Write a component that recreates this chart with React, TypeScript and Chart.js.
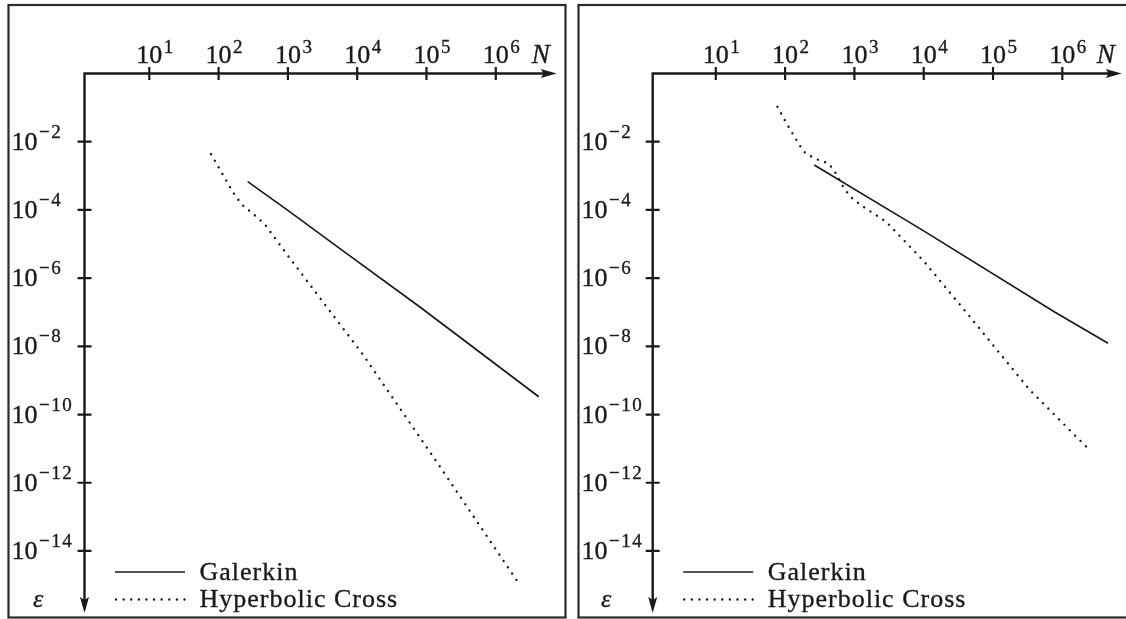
import React, { useEffect, useRef } from "react";
import { Chart, registerables } from "chart.js";

Chart.register(...registerables);

// ---------------- data ----------------
const xTickValues = [1e1, 1e2, 1e3, 1e4, 1e5, 1e6];
const xTickExps = ["1", "2", "3", "4", "5", "6"];
const yTickValues = [1e-2, 1e-4, 1e-6, 1e-8, 1e-10, 1e-12, 1e-14];
const yTickExps = ["\u22122", "\u22124", "\u22126", "\u22128", "\u221210", "\u221212", "\u221214"];
const seriesLabels = ["Galerkin", "Hyperbolic Cross"];
const xAxisTitle = "N";
const yAxisTitle = "\u03b5";

const leftGalerkinN = [263, 977, 6607, 81283, 4170000];
const leftGalerkinErr = [6.76e-4, 1.0e-4, 5.8e-6, 1.4e-7, 3.31e-10];
const leftHyperN = [77.8, 163, 218, 317, 462, 1096, 12246, 156675, 2180000];
const leftHyperErr = [4.32e-3, 3.19e-4, 1.42e-4, 7.59e-5, 3.86e-5, 3.56e-6, 5.56e-9, 2.95e-12, 1.07e-15];

const rightGalerkinN = [263, 9462, 785236, 4570000];
const rightGalerkinErr = [2.07e-3, 2.6e-5, 1.0e-7, 1.23e-8];
const rightHyperN = [77.4, 101.6, 145.6, 184.9, 263.6, 425.6, 540.8, 687.1, 873, 1245, 2877, 10000, 42170, 338844, 2340000];
const rightHyperErr = [0.1062, 0.0389, 0.01122, 5.13e-3, 3.24e-3, 2.29e-3, 1.175e-3, 4.79e-4, 2.45e-4, 1.38e-4, 4.47e-5, 3.16e-6, 9.33e-8, 5.25e-10, 1.02e-11];

// ---------------- styling / geometry ----------------
const INK = "#1a1a1a";
const SERIF = '"Liberation Serif", "DejaVu Serif", serif';
const CW = 575;
const CH = 619;

type Geom = {
  canvasLeft: number;
  borderLeft: number;
  axisX: number;
  arrowX: number;
  xMin: number;
  xMax: number;
};

const leftGeom: Geom = {
  canvasLeft: 0,
  borderLeft: 8.5,
  axisX: 84.5,
  arrowX: 556.7,
  xMin: 1.161,
  xMax: 7.57e6,
};
const rightGeom: Geom = {
  canvasLeft: 567,
  borderLeft: 11.5,
  axisX: 85.7,
  arrowX: 554.7,
  xMin: 1.229,
  xMax: 7.19e6,
};

const AXIS_TOP = 73.5;
const AXIS_BOTTOM = 613;
const Y_MAX = 1;
const Y_MIN = 1.514e-16;

function toPoints(xs: number[], ys: number[]) {
  return xs.map((x, i) => ({ x, y: ys[i] }));
}

function text(ctx: CanvasRenderingContext2D, s: string, x: number, y: number) {
  ctx.fillText(s, x, y);
  ctx.strokeText(s, x, y);
}

function makeDecor(g: Geom) {
  return {
    id: "decor",
    afterDatasetsDraw(chart: any) {
      const ctx: CanvasRenderingContext2D = chart.ctx;
      const xs = chart.scales.x;
      const ys = chart.scales.y;
      const { left, right, top, bottom } = chart.chartArea;
      ctx.save();
      // panel frame
      ctx.strokeStyle = "#2a2a2a";
      ctx.lineWidth = 2.2;
      ctx.strokeRect(g.borderLeft, 5, 557, 612.5);

      // axes
      ctx.strokeStyle = INK;
      ctx.lineWidth = 2.4;
      ctx.lineJoin = "miter";
      ctx.beginPath();
      ctx.moveTo(right - 8, top);
      ctx.lineTo(left, top);
      ctx.lineTo(left, bottom - 8);
      ctx.stroke();
      // arrow heads
      ctx.fillStyle = INK;
      ctx.beginPath();
      ctx.moveTo(right, top);
      ctx.lineTo(right - 16, top - 4.5);
      ctx.lineTo(right - 13, top);
      ctx.lineTo(right - 16, top + 4.5);
      ctx.closePath();
      ctx.fill();
      ctx.beginPath();
      ctx.moveTo(left, bottom);
      ctx.lineTo(left - 4.5, bottom - 16);
      ctx.lineTo(left, bottom - 13);
      ctx.lineTo(left + 4.5, bottom - 16);
      ctx.closePath();
      ctx.fill();

      // ticks
      ctx.lineWidth = 2.2;
      ctx.beginPath();
      xTickValues.forEach((v) => {
        const px = xs.getPixelForValue(v);
        ctx.moveTo(px, top - 6.5);
        ctx.lineTo(px, top + 6.5);
      });
      yTickValues.forEach((v) => {
        const py = ys.getPixelForValue(v);
        ctx.moveTo(left - 7, py);
        ctx.lineTo(left + 7, py);
      });
      ctx.stroke();

      // text styling
      ctx.textBaseline = "alphabetic";
      ctx.strokeStyle = INK;
      ctx.lineWidth = 0.35;
      ctx.lineJoin = "round";

      // x tick labels
      xTickValues.forEach((v, i) => {
        const px = xs.getPixelForValue(v);
        ctx.font = `26px ${SERIF}`;
        const w = ctx.measureText("10").width;
        text(ctx, "10", px - w / 2, 62.7);
        ctx.font = `19px ${SERIF}`;
        text(ctx, xTickExps[i], px + w / 2 + 1.5, 52.5);
      });
      // y tick labels
      yTickValues.forEach((v, i) => {
        const py = ys.getPixelForValue(v);
        const lx = g.borderLeft + 3;
        ctx.font = `26px ${SERIF}`;
        const w = ctx.measureText("10").width;
        text(ctx, "10", lx, py + 8);
        ctx.font = `19px ${SERIF}`;
        (ctx as any).letterSpacing = "1.5px";
        text(ctx, yTickExps[i], lx + w + 1.5, py - 4);
        (ctx as any).letterSpacing = "0px";
      });

      // axis titles
      ctx.font = `italic 27px ${SERIF}`;
      text(ctx, xAxisTitle, right - 25, 62.7);
      ctx.font = `italic 26px ${SERIF}`;
      const ew = ctx.measureText(yAxisTitle).width;
      text(ctx, yAxisTitle, left - 46.5 - ew / 2, 606.5);

      // legend
      const lx0 = left + 30.5;
      const lx1 = left + 100.5;
      ctx.lineWidth = 1.7;
      ctx.setLineDash([]);
      ctx.beginPath();
      ctx.moveTo(lx0, 572);
      ctx.lineTo(lx1, 572);
      ctx.stroke();
      ctx.lineWidth = 2.4;
      ctx.lineCap = "round";
      ctx.setLineDash([0.01, 7.6]);
      ctx.beginPath();
      ctx.moveTo(lx0 + 1, 599.5);
      ctx.lineTo(lx1, 599.5);
      ctx.stroke();
      ctx.setLineDash([]);
      ctx.lineCap = "butt";
      ctx.lineWidth = 0.35;
      ctx.font = `26px ${SERIF}`;
      (ctx as any).letterSpacing = "1px";
      text(ctx, seriesLabels[0], left + 115, 579.5);
      text(ctx, seriesLabels[1], left + 115, 606.5);
      (ctx as any).letterSpacing = "0px";
      ctx.restore();
    },
  };
}

function Panel(props: { g: Geom; galN: number[]; galE: number[]; hypN: number[]; hypE: number[] }) {
  const ref = useRef<HTMLCanvasElement | null>(null);
  const { g, galN, galE, hypN, hypE } = props;
  useEffect(() => {
    if (!ref.current) return;
    const chart = new Chart(ref.current, {
      type: "line",
      data: {
        datasets: [
          {
            label: seriesLabels[0],
            data: toPoints(galN, galE),
            borderColor: INK,
            borderWidth: 1.7,
            pointRadius: 0,
            fill: false,
            tension: 0,
          },
          {
            label: seriesLabels[1],
            data: toPoints(hypN, hypE),
            borderColor: INK,
            borderWidth: 2.4,
            borderDash: [0.01, 7.6],
            borderCapStyle: "round",
            pointRadius: 0,
            fill: false,
            tension: 0,
          },
        ],
      },
      options: {
        animation: false,
        responsive: false,
        maintainAspectRatio: false,
        devicePixelRatio: 1,
        layout: {
          padding: {
            left: g.axisX,
            right: CW - g.arrowX,
            top: AXIS_TOP,
            bottom: CH - AXIS_BOTTOM,
          },
        },
        scales: {
          x: { type: "logarithmic", min: g.xMin, max: g.xMax, display: false, bounds: "data" },
          y: { type: "logarithmic", min: Y_MIN, max: Y_MAX, display: false, bounds: "data" },
        },
        plugins: { legend: { display: false }, tooltip: { enabled: false } },
      } as any,
      plugins: [makeDecor(g)],
    });
    return () => chart.destroy();
  }, []);
  return (
    <canvas
      ref={ref}
      width={CW}
      height={CH}
      style={{ position: "absolute", left: g.canvasLeft, top: 0, width: CW, height: CH }}
    />
  );
}

export default function App() {
  return (
    <div
      style={{
        position: "fixed",
        left: 0,
        top: 0,
        width: 1126,
        height: 619,
        overflow: "hidden",
        background: "#ffffff",
      }}
    >
      <Panel g={leftGeom} galN={leftGalerkinN} galE={leftGalerkinErr} hypN={leftHyperN} hypE={leftHyperErr} />
      <Panel g={rightGeom} galN={rightGalerkinN} galE={rightGalerkinErr} hypN={rightHyperN} hypE={rightHyperErr} />
    </div>
  );
}
